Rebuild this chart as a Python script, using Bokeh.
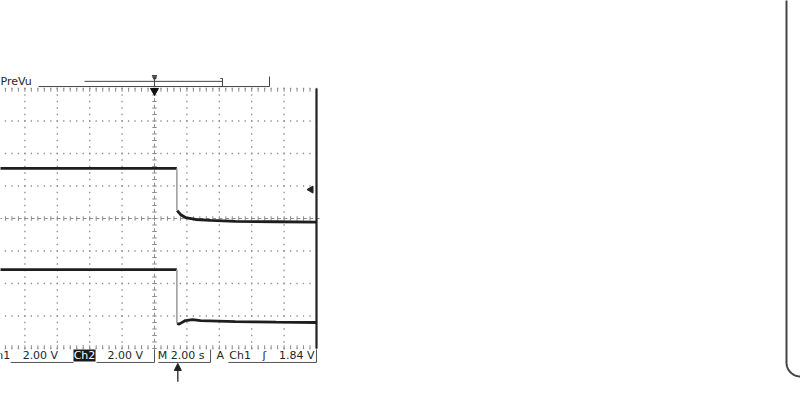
import numpy as np
from bokeh.plotting import figure
from bokeh.models import Range1d, Arrow, NormalHead
from bokeh.core.properties import value
from bokeh.embed import file_html
from bokeh.resources import INLINE

# ---- scope settings / labels ----
SEC_PER_DIV = 2.0
V_PER_DIV = 2.0
ch1_scale = "2.00 V"
ch2_scale = "2.00 V"
timebase = "M 2.00 s"
trig_label = ["A", "Ch1", "\u0283", "1.84 V"]

# ---- trace data (time in s, volts relative to screen centre) ----
step_t = 1.38
ch1_pre_t = [-10.0, 1.38]
ch1_pre_v = [3.08, 3.08]
ch1_post_t = [1.40, 1.60, 1.91, 2.53, 3.46, 5.0, 7.5, 10.0]
ch1_post_v = [0.49, 0.25, 0.06, -0.06, -0.12, -0.18, -0.20, -0.22]

ch2_pre_t = [-10.0, 1.38]
ch2_pre_v = [-3.14, -3.14]
ch2_post_t = [1.40, 1.52, 1.91, 2.35, 2.84, 5.0, 7.5, 10.0]
ch2_post_v = [-6.46, -6.50, -6.28, -6.22, -6.28, -6.34, -6.38, -6.40]

def tx(t):
    return np.asarray(t, dtype=float) / SEC_PER_DIV

def vy(v):
    return np.asarray(v, dtype=float) / V_PER_DIV

PXX = 32.4  # px per division (x)
PXY = 32.5  # px per division (y)

p = figure(width=800, height=409,
           x_range=Range1d(-4.753, 19.938), y_range=Range1d(-5.877, 6.708),
           output_backend="svg", toolbar_location=None,
           x_axis_type=None, y_axis_type=None, min_border=0)
p.outline_line_color = None
p.background_fill_color = "white"
p.border_fill_color = "white"

GRID = "#8c8c8c"
FONT = value("DejaVu Sans")

# ---- graticule dots ----
xs_fine = np.round(np.arange(-5.0, 5.0001, 0.2), 3)
ys_fine = np.round(np.arange(-4.0, 4.0001, 0.2), 3)
dx, dy = [], []
for yl in [-3, -2, -1, 1, 2, 3]:
    dx += list(xs_fine); dy += [yl] * len(xs_fine)
for xl in [-4, -3, -2, -1, 1, 2, 3, 4]:
    dx += [xl] * len(ys_fine); dy += list(ys_fine)
p.scatter(dx, dy, marker="square", size=1.3, color=GRID, line_width=0)

# centre lines with ticks
tk = 0.07
p.segment(x0=xs_fine, y0=-tk, x1=xs_fine, y1=tk, line_color=GRID, line_width=1)
p.segment(x0=xs_fine, y0=0, x1=xs_fine + 0.1, y1=0, line_color=GRID, line_width=1)
p.segment(x0=-tk, y0=ys_fine, x1=tk, y1=ys_fine, line_color=GRID, line_width=1)
p.segment(x0=0, y0=ys_fine[:-1], x1=0, y1=ys_fine[:-1] + 0.1, line_color=GRID, line_width=1)
# top / bottom edge ticks
p.segment(x0=xs_fine, y0=4.0, x1=xs_fine, y1=4.0 - 0.1, line_color=GRID, line_width=1)
p.segment(x0=xs_fine, y0=-4.0, x1=xs_fine, y1=-4.0 + 0.1, line_color=GRID, line_width=1)
p.scatter(list(xs_fine) * 2, [4.0] * len(xs_fine) + [-4.0] * len(xs_fine),
          marker="square", size=1.3, color=GRID, line_width=0)
# right border
p.line([5, 5], [-4, 4], line_color="#222222", line_width=2.2)

# ---- traces ----
TRACE = "#1e1e1e"
STEP = "#a0a0a0"
p.line(tx(ch1_pre_t), vy(ch1_pre_v), line_color=TRACE, line_width=2.8)
p.line(tx([step_t, step_t]), vy([ch1_pre_v[-1], ch1_post_v[0]]), line_color=STEP, line_width=1.6)
p.line(tx(ch1_post_t), vy(ch1_post_v), line_color=TRACE, line_width=2.8)

p.line(tx(ch2_pre_t), vy(ch2_pre_v), line_color=TRACE, line_width=2.8)
p.line(tx([step_t, step_t]), vy([ch2_pre_v[-1], ch2_post_v[0]]), line_color=STEP, line_width=1.6)
p.line(tx(ch2_post_t), vy(ch2_post_v), line_color=TRACE, line_width=2.8)

# ---- markers ----
p.scatter([0], [3.93], marker="inverted_triangle", size=8, color="#111111")
p.scatter([4.83], [0.89], marker="triangle", angle=np.pi / 2, size=7, color="#222222")

# ---- PreVu record bar ----
TXT = "#262626"
p.text([-4.75], [4.22], text=["PreVu"], text_font=FONT, text_font_size="11px",
       text_color=TXT, text_baseline="middle", text_align="left")
p.line([-3.58, 3.55], [4.06, 4.06], line_color="#444444", line_width=1)
p.line([3.55, 3.55], [4.06, 4.37], line_color="#444444", line_width=1)
p.line([-2.16, 2.10], [4.22, 4.22], line_color="#444444", line_width=1)
p.line([2.03, 2.10, 2.10, 2.03], [4.31, 4.31, 4.06, 4.06], line_color="#444444", line_width=1)
p.line([0.06, 0.0, 0.0, 0.06], [4.31, 4.31, 4.06, 4.06], line_color="#444444", line_width=1)
p.line([-0.08, 0.08], [4.40, 4.40], line_color="#444444", line_width=1.2)
p.scatter([0], [4.33], marker="inverted_triangle", size=4, color="#444444")

# ---- bottom status line ----
yb = -4.22
p.text([-5.12, -4.07, -1.45, 0.10, 1.91, 2.31, 3.33],
       [yb] * 7,
       text=["Ch1", ch1_scale, ch2_scale, timebase, trig_label[0], trig_label[1], trig_label[2]],
       text_font=FONT, text_font_size="11px", text_color=TXT,
       text_baseline="middle", text_align="left")
p.text([4.94], [yb], text=[trig_label[3]], text_font=FONT, text_font_size="11px",
       text_color=TXT, text_baseline="middle", text_align="right")
p.quad(left=[-2.50], right=[-1.82], bottom=[-4.40], top=[-4.03], fill_color="#1a1a1a", line_color=None)
p.text([-2.16], [yb], text=["Ch2"], text_font=FONT, text_font_size="11px",
       text_color="white", text_baseline="middle", text_align="center")
ul = -4.43
UL = "#555555"
p.line([-4.44, -2.50], [ul, ul], line_color=UL, line_width=1)
p.line([-1.79, 0.0, 0.0], [ul, ul, -4.03], line_color=UL, line_width=1)
p.line([0.12, 1.73, 1.73], [ul, ul, -4.03], line_color=UL, line_width=1)
p.line([2.28, 5.0, 5.0], [ul, ul, -4.03], line_color=UL, line_width=1)

# ---- trigger arrow below ----
p.add_layout(Arrow(end=NormalHead(size=7, fill_color="#222222", line_color="#222222"),
                   x_start=tx(step_t) + 0.03, y_start=-5.02,
                   x_end=tx(step_t) + 0.03, y_end=-4.46,
                   line_color="#222222", line_width=1.3))

# ---- rounded frame at right ----
cx, cy, r = 19.938, -4.431, 14.0
ang = np.linspace(np.pi, 1.5 * np.pi, 20)
fx = [cx - r / PXX, cx - r / PXX] + list(cx + r / PXX * np.cos(ang)) + [21.0]
fy = [7.0, cy] + list(cy + r / PXY * np.sin(ang)) + [cy - r / PXY]
p.line(fx, fy, line_color="#444444", line_width=2)

open("out.html", "w").write(file_html(p, INLINE))
